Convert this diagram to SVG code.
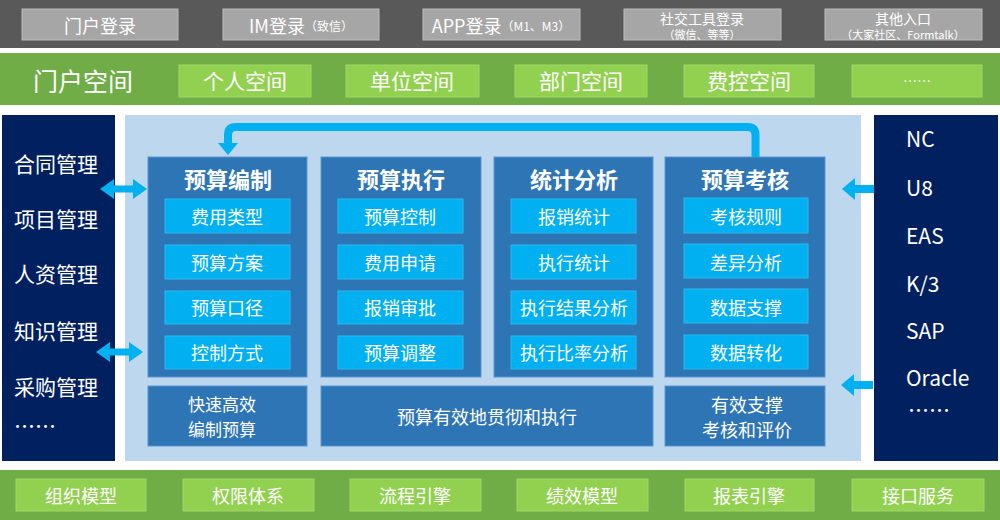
<svg xmlns="http://www.w3.org/2000/svg" width="1000" height="520" viewBox="0 0 1000 520">
<style>
text{font-family:"Noto Sans CJK SC","Microsoft YaHei","Noto Sans",sans-serif;fill:#fff;text-anchor:middle;dominant-baseline:central}
.gray{fill:#a6a6a6;stroke:#bdbdbd;stroke-width:1}
.gbox{fill:#92d050;stroke:#9fd866;stroke-width:1}
.col{fill:#2e75b6;stroke:#5a95cf;stroke-width:1}
.sub{fill:#00b0f0;stroke:#2ab9ef;stroke-width:1}
.navy{fill:#002060}
.t18{font-size:18px}
.t17{font-size:17px}
.t21{font-size:21px}
.hd{font-size:22px;font-weight:bold}
.lab{font-size:21px;text-anchor:start}
.arr{fill:#00b0f0}
</style>
<rect width="1000" height="520" fill="#fff"/>
<!-- top login bar -->
<rect x="0" y="0" width="1000" height="48" fill="#595959"/>
<g id="login-portal"><rect class="gray" x="22" y="9" width="156" height="31"/><text class="t18" x="100" y="25">门户登录</text></g>
<g id="login-im"><rect class="gray" x="223" y="9" width="156" height="31"/><text x="301" y="25"><tspan font-size="18">IM登录</tspan><tspan font-size="12">（致信）</tspan></text></g>
<g id="login-app"><rect class="gray" x="423" y="9" width="157" height="31"/><text x="501" y="25"><tspan font-size="18">APP登录</tspan><tspan font-size="12">（M1、M3）</tspan></text></g>
<g id="login-social"><rect class="gray" x="624" y="9" width="157" height="31"/><text x="702" y="18" font-size="14">社交工具登录</text><text x="702" y="34" font-size="11">（微信、等等）</text></g>
<g id="login-other"><rect class="gray" x="825" y="9" width="157" height="31"/><text x="903" y="18" font-size="14">其他入口</text><text x="903" y="34" font-size="11">（大家社区、Formtalk）</text></g>
<!-- portal space bar -->
<rect x="0" y="53" width="1000" height="52" fill="#70ad47"/>
<g id="portal-space"><text x="83" y="80" font-size="25">门户空间</text></g>
<g id="space-personal"><rect class="gbox" x="179" y="65" width="132" height="32"/><text class="t21" x="245" y="80">个人空间</text></g>
<g id="space-unit"><rect class="gbox" x="346" y="65" width="133" height="32"/><text class="t21" x="412" y="80">单位空间</text></g>
<g id="space-dept"><rect class="gbox" x="515" y="65" width="132" height="32"/><text class="t21" x="581" y="80">部门空间</text></g>
<g id="space-fee"><rect class="gbox" x="684" y="65" width="130" height="32"/><text class="t21" x="749" y="80">费控空间</text></g>
<g id="space-more"><rect class="gbox" x="852" y="65" width="130" height="32"/><text x="917" y="80" font-size="14">……</text></g>
<!-- left panel -->
<g id="left-systems">
<rect class="navy" x="2" y="115" width="113" height="346"/>
<text class="lab" x="14" y="163">合同管理</text>
<text class="lab" x="14" y="218">项目管理</text>
<text class="lab" x="14" y="273">人资管理</text>
<text class="lab" x="14" y="330">知识管理</text>
<text class="lab" x="14" y="386">采购管理</text>
<text class="lab" x="14" y="425" font-size="13">……</text>
</g>
<!-- right panel -->
<g id="right-systems">
<rect class="navy" x="874" y="115" width="124" height="346"/>
<text class="lab" x="906" y="138">NC</text>
<text class="lab" x="906" y="187">U8</text>
<text class="lab" x="906" y="235">EAS</text>
<text class="lab" x="906" y="283">K/3</text>
<text class="lab" x="906" y="330">SAP</text>
<text class="lab" x="906" y="377">Oracle</text>
<text class="lab" x="908" y="409" font-size="11">……</text>
</g>
<!-- center panel -->
<rect x="125" y="115" width="736" height="346" fill="#bdd7ee"/>
<g id="col-compile">
<rect class="col" x="148" y="157" width="159" height="220"/>
<text class="hd" x="228" y="178">预算编制</text>
<rect class="sub" x="165" y="199" width="125" height="34"/><text class="t18" x="227" y="216">费用类型</text>
<rect class="sub" x="165" y="245" width="125" height="34"/><text class="t18" x="227" y="262">预算方案</text>
<rect class="sub" x="165" y="291" width="125" height="33"/><text class="t18" x="227" y="307">预算口径</text>
<rect class="sub" x="165" y="336" width="125" height="33"/><text class="t18" x="227" y="352">控制方式</text>
</g>
<g id="col-execute">
<rect class="col" x="321" y="157" width="160" height="220"/>
<text class="hd" x="401" y="178">预算执行</text>
<rect class="sub" x="338" y="199" width="125" height="34"/><text class="t18" x="400" y="216">预算控制</text>
<rect class="sub" x="338" y="245" width="125" height="34"/><text class="t18" x="400" y="262">费用申请</text>
<rect class="sub" x="338" y="291" width="125" height="33"/><text class="t18" x="400" y="307">报销审批</text>
<rect class="sub" x="338" y="336" width="125" height="33"/><text class="t18" x="400" y="352">预算调整</text>
</g>
<g id="col-stat">
<rect class="col" x="494" y="157" width="159" height="220"/>
<text class="hd" x="574" y="178">统计分析</text>
<rect class="sub" x="511" y="199" width="125" height="34"/><text class="t18" x="574" y="216">报销统计</text>
<rect class="sub" x="511" y="245" width="125" height="34"/><text class="t18" x="574" y="262">执行统计</text>
<rect class="sub" x="511" y="291" width="125" height="33"/><text class="t18" x="574" y="307">执行结果分析</text>
<rect class="sub" x="511" y="336" width="125" height="33"/><text class="t18" x="574" y="352">执行比率分析</text>
</g>
<g id="col-assess">
<rect class="col" x="665" y="157" width="160" height="220"/>
<text class="hd" x="745" y="178">预算考核</text>
<rect class="sub" x="684" y="198" width="124" height="35"/><text class="t18" x="746" y="216">考核规则</text>
<rect class="sub" x="684" y="244" width="124" height="34"/><text class="t18" x="746" y="262">差异分析</text>
<rect class="sub" x="684" y="289" width="124" height="34"/><text class="t18" x="746" y="307">数据支撑</text>
<rect class="sub" x="684" y="335" width="124" height="34"/><text class="t18" x="746" y="352">数据转化</text>
</g>
<g id="bottom-compile"><rect class="col" x="148" y="386" width="159" height="60"/><text class="t17" x="222" y="403">快速高效</text><text class="t17" x="222" y="428">编制预算</text></g>
<g id="bottom-execute"><rect class="col" x="321" y="386" width="332" height="60"/><text class="t18" x="487" y="416">预算有效地贯彻和执行</text></g>
<g id="bottom-assess"><rect class="col" x="665" y="386" width="160" height="60"/><text class="t18" x="747" y="404">有效支撑</text><text class="t18" x="747" y="429">考核和评价</text></g>
<!-- bottom platform bar -->
<rect x="0" y="470" width="1000" height="50" fill="#70ad47"/>
<g id="base-org"><rect class="gbox" x="16" y="479" width="130" height="32"/><text class="t18" x="81" y="495">组织模型</text></g>
<g id="base-perm"><rect class="gbox" x="183" y="479" width="131" height="32"/><text class="t18" x="248" y="495">权限体系</text></g>
<g id="base-flow"><rect class="gbox" x="350" y="479" width="131" height="32"/><text class="t18" x="415" y="495">流程引擎</text></g>
<g id="base-perf"><rect class="gbox" x="517" y="479" width="131" height="32"/><text class="t18" x="582" y="495">绩效模型</text></g>
<g id="base-report"><rect class="gbox" x="685" y="479" width="129" height="32"/><text class="t18" x="749" y="495">报表引擎</text></g>
<g id="base-iface"><rect class="gbox" x="852" y="479" width="132" height="32"/><text class="t18" x="918" y="495">接口服务</text></g>
<!-- connectors -->
<g id="connectors">
<path d="M755.5,157 V135 Q755.5,127 747.5,127 H236 Q228,127 228,135 V144" fill="none" stroke="#00b0f0" stroke-width="8"/>
<polygon class="arr" points="218,143 238,143 228,155"/>
<polygon class="arr" points="100,189 114,179 114,185.5 133,185.5 133,179 147,189 133,199 133,192.5 114,192.5 114,199"/>
<polygon class="arr" points="96,352 110,342 110,348.5 129,348.5 129,342 143,352 129,362 129,355.5 110,355.5 110,362"/>
<polygon class="arr" points="842,189 855,178 855,185 874,185 874,193 855,193 855,200"/>
<polygon class="arr" points="841,385 854,374 854,381 873,381 873,389 854,389 854,396"/>
</g>
</svg>
